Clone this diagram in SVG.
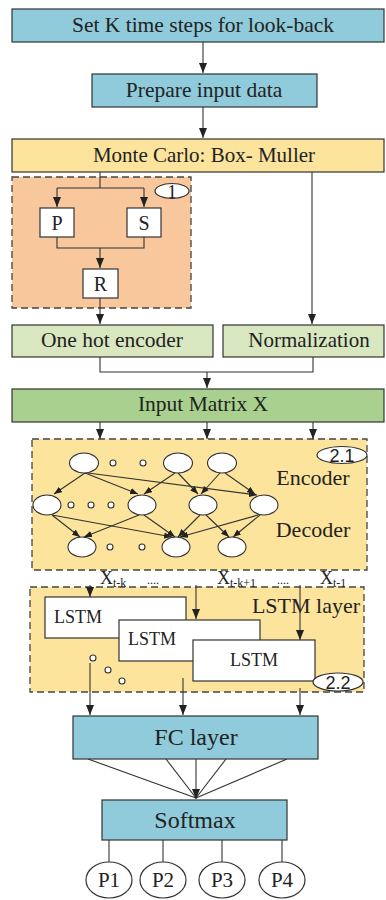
<svg xmlns="http://www.w3.org/2000/svg" width="386" height="900" viewBox="0 0 386 900">
<style>
.box{stroke:#333;stroke-width:1.2}
.blue{fill:#90cbdb}
.yel{fill:#fde49c}
.lg{fill:#d9e7c0}
.dg{fill:#a9d08e}
.wh{fill:#fff;stroke:#333;stroke-width:1.2}
.dash{stroke:#444;stroke-width:1.3;stroke-dasharray:7 4}
.ln{fill:none;stroke:#333;stroke-width:1.1}
.t{font-family:"Liberation Serif","Times New Roman",serif;fill:#222;text-anchor:middle}
.ts{font-family:"Liberation Sans",Arial,sans-serif;fill:#222;text-anchor:middle}
.n{fill:#fff;stroke:#333;stroke-width:1.1}
</style>
<defs>
<marker id="ar" viewBox="0 0 10 8" refX="10" refY="4" markerWidth="10" markerHeight="8" markerUnits="userSpaceOnUse" orient="auto">
<path d="M0,0 L10,4 L0,8 z" fill="#222"/>
</marker>
<marker id="as" viewBox="0 0 10 8" refX="10" refY="4" markerWidth="8" markerHeight="7" markerUnits="userSpaceOnUse" orient="auto">
<path d="M0,0 L10,4 L0,8 z" fill="#222"/>
</marker>
</defs>

<g id="group1">
<rect x="12" y="177" width="179" height="131" fill="#f8c79b" class="dash"/>
<ellipse cx="172" cy="191" rx="17" ry="7.5" class="wh"/>
<text x="172" y="198" class="t" font-size="19">1</text>
</g>
<g id="group21">
<rect x="32" y="439" width="335" height="131" class="yel dash"/>
<ellipse cx="342" cy="455" rx="25" ry="8.5" class="wh"/>
<text x="342" y="462" class="ts" font-size="18">2.1</text>
<text x="313" y="485" class="t" font-size="22">Encoder</text>
<text x="313" y="537" class="t" font-size="22">Decoder</text>
</g>
<g id="group22">
<rect x="30" y="587" width="334" height="105" class="yel dash"/>
<text x="306" y="613" class="t" font-size="22">LSTM layer</text>
</g>

<g id="connectors">
<line x1="203" y1="42" x2="203" y2="73" class="ln" marker-end="url(#ar)"/>
<line x1="203" y1="107" x2="203" y2="138" class="ln" marker-end="url(#ar)"/>
<polyline points="100,172 100,188" class="ln"/>
<polyline points="57,188 144,188" class="ln"/>
<line x1="57" y1="188" x2="57" y2="207" class="ln" marker-end="url(#ar)"/>
<line x1="144" y1="188" x2="144" y2="207" class="ln" marker-end="url(#ar)"/>
<polyline points="57,237 57,248 144,248 144,237" class="ln"/>
<line x1="100" y1="248" x2="100" y2="268" class="ln" marker-end="url(#ar)"/>
<line x1="100" y1="298" x2="100" y2="324" class="ln" marker-end="url(#ar)"/>
<line x1="312" y1="172" x2="312" y2="324" class="ln" marker-end="url(#ar)"/>
<polyline points="100,357 100,372 313,372 313,357" class="ln"/>
<line x1="207" y1="372" x2="207" y2="388" class="ln" marker-end="url(#ar)"/>
<line x1="100" y1="422" x2="100" y2="439" class="ln" marker-end="url(#ar)"/>
<line x1="207" y1="422" x2="207" y2="439" class="ln" marker-end="url(#ar)"/>
<line x1="313" y1="422" x2="313" y2="439" class="ln" marker-end="url(#ar)"/>

<line x1="85" y1="473" x2="54" y2="494" class="ln" marker-end="url(#as)"/>
<line x1="85" y1="473" x2="138" y2="494" class="ln" marker-end="url(#as)"/>
<line x1="88" y1="473" x2="257" y2="495" class="ln" marker-end="url(#as)"/>
<line x1="175" y1="473" x2="144" y2="494" class="ln" marker-end="url(#as)"/>
<line x1="178" y1="473" x2="198" y2="494" class="ln" marker-end="url(#as)"/>
<line x1="220" y1="473" x2="201" y2="494" class="ln" marker-end="url(#as)"/>
<line x1="225" y1="473" x2="255" y2="494" class="ln" marker-end="url(#as)"/>
<line x1="52" y1="515" x2="80" y2="537" class="ln" marker-end="url(#as)"/>
<line x1="52" y1="515" x2="172" y2="537" class="ln" marker-end="url(#as)"/>
<line x1="139" y1="515" x2="84" y2="537" class="ln" marker-end="url(#as)"/>
<line x1="144" y1="515" x2="175" y2="537" class="ln" marker-end="url(#as)"/>
<line x1="200" y1="515" x2="178" y2="537" class="ln" marker-end="url(#as)"/>
<line x1="206" y1="515" x2="229" y2="537" class="ln" marker-end="url(#as)"/>
<line x1="258" y1="515" x2="180" y2="537" class="ln" marker-end="url(#as)"/>
<line x1="260" y1="515" x2="233" y2="537" class="ln" marker-end="url(#as)"/>

<line x1="90" y1="570" x2="90" y2="597" class="ln" marker-end="url(#ar)"/>
<line x1="196" y1="570" x2="196" y2="619" class="ln" marker-end="url(#ar)"/>
<line x1="300" y1="570" x2="300" y2="640" class="ln" marker-end="url(#ar)"/>

<line x1="90" y1="663" x2="90" y2="715" class="ln" marker-end="url(#ar)"/>
<line x1="183" y1="678" x2="183" y2="715" class="ln" marker-end="url(#ar)"/>
<line x1="300" y1="688" x2="300" y2="715" class="ln" marker-end="url(#ar)"/>

<line x1="88" y1="759" x2="196" y2="798" class="ln"/>
<line x1="166" y1="759" x2="196" y2="798" class="ln"/>
<line x1="226" y1="759" x2="196" y2="798" class="ln"/>
<line x1="287" y1="759" x2="196" y2="798" class="ln"/>
<line x1="196" y1="759" x2="196" y2="799" class="ln" marker-end="url(#ar)"/>

<line x1="109" y1="840" x2="109" y2="862" class="ln"/>
<line x1="163" y1="840" x2="163" y2="862" class="ln"/>
<line x1="222" y1="840" x2="222" y2="862" class="ln"/>
<line x1="282" y1="840" x2="282" y2="862" class="ln"/>
</g>

<g id="setk"><rect x="12" y="9" width="372" height="33" class="box blue"/><text x="203" y="32" class="t" font-size="21.5">Set K time steps for look-back</text></g>
<g id="prepare"><rect x="92" y="74" width="225" height="33" class="box blue"/><text x="204" y="97" class="t" font-size="21.5">Prepare input data</text></g>
<g id="montecarlo"><rect x="12" y="139" width="372" height="33" class="box yel"/><text x="204" y="162" class="t" font-size="21">Monte Carlo: Box- Muller</text></g>
<g id="P"><rect x="40" y="208" width="34" height="29" class="wh"/><text x="57" y="230" class="t" font-size="20">P</text></g>
<g id="S"><rect x="127" y="208" width="34" height="29" class="wh"/><text x="144" y="230" class="t" font-size="20">S</text></g>
<g id="R"><rect x="83" y="269" width="35" height="29" class="wh"/><text x="100.5" y="291" class="t" font-size="20">R</text></g>
<g id="onehot"><rect x="12" y="325" width="201" height="32" class="box lg"/><text x="112" y="347" class="t" font-size="21.5">One hot encoder</text></g>
<g id="normalization"><rect x="223" y="325" width="161" height="32" class="box lg"/><text x="309" y="347" class="t" font-size="21">Normalization</text></g>
<g id="inputmatrix"><rect x="12" y="389" width="372" height="33" class="box dg"/><text x="203" y="411" class="t" font-size="21.5">Input Matrix X</text></g>

<g id="autoencoder">
<ellipse cx="84" cy="463" rx="14.5" ry="10" class="n"/>
<circle cx="113" cy="463" r="3" class="n"/>
<circle cx="143" cy="463" r="3" class="n"/>
<ellipse cx="178" cy="463" rx="14.5" ry="10" class="n"/>
<ellipse cx="222" cy="463" rx="14.5" ry="10" class="n"/>
<ellipse cx="47" cy="505" rx="14" ry="10" class="n"/>
<circle cx="71" cy="505" r="3" class="n"/>
<circle cx="91" cy="505" r="3" class="n"/>
<circle cx="111" cy="505" r="3" class="n"/>
<ellipse cx="142" cy="505" rx="14" ry="10" class="n"/>
<ellipse cx="203" cy="505" rx="14" ry="10" class="n"/>
<ellipse cx="264" cy="505" rx="14" ry="10" class="n"/>
<ellipse cx="82" cy="547" rx="14" ry="10" class="n"/>
<circle cx="110" cy="547" r="3" class="n"/>
<circle cx="142" cy="547" r="3" class="n"/>
<ellipse cx="176" cy="547" rx="14" ry="10" class="n"/>
<ellipse cx="232" cy="547" rx="14" ry="10" class="n"/>
</g>

<g id="xlabels">
<rect x="0" y="571" width="386" height="14" fill="#fff"/>
<text x="100" y="584" font-family="Liberation Serif,serif" font-size="18" fill="#222">X<tspan font-size="12" dy="3">t-k</tspan></text>
<text x="147" y="584" font-family="Liberation Serif,serif" font-size="12" fill="#222">....</text>
<text x="217" y="584" font-family="Liberation Serif,serif" font-size="18" fill="#222">X<tspan font-size="12" dy="3">t-k+1</tspan></text>
<text x="277" y="584" font-family="Liberation Serif,serif" font-size="12" fill="#222">....</text>
<text x="320" y="584" font-family="Liberation Serif,serif" font-size="18" fill="#222">X<tspan font-size="12" dy="3">t-1</tspan></text>
</g>

<g id="lstm1"><rect x="45" y="597" width="141" height="41" class="wh"/><text x="78" y="623" class="t" font-size="18">LSTM</text></g>
<g id="lstm2"><rect x="119" y="620" width="141" height="41" class="wh"/><text x="152" y="645" class="t" font-size="18">LSTM</text></g>
<g id="lstm3"><rect x="193" y="640" width="122" height="41" class="wh"/><text x="254" y="666" class="t" font-size="18">LSTM</text></g>
<g id="lstmdots">
<circle cx="93" cy="658" r="3" class="n"/>
<circle cx="108" cy="670" r="3" class="n"/>
<circle cx="122" cy="681" r="3" class="n"/>
</g>
<g id="label22"><ellipse cx="338" cy="682" rx="25" ry="9" class="wh"/><text x="338" y="689" class="ts" font-size="18">2.2</text></g>

<g id="fc"><rect x="73" y="716" width="245" height="43" class="box blue"/><text x="196" y="745" class="t" font-size="24">FC layer</text></g>
<g id="softmax"><rect x="102" y="800" width="185" height="40" class="box blue"/><text x="195" y="828" class="t" font-size="24">Softmax</text></g>
<g id="p1"><ellipse cx="109" cy="880" rx="23" ry="18" class="wh"/><text x="109" y="887" class="t" font-size="21">P1</text></g>
<g id="p2"><ellipse cx="163" cy="880" rx="23" ry="18" class="wh"/><text x="163" y="887" class="t" font-size="21">P2</text></g>
<g id="p3"><ellipse cx="222" cy="880" rx="23" ry="18" class="wh"/><text x="222" y="887" class="t" font-size="21">P3</text></g>
<g id="p4"><ellipse cx="282" cy="880" rx="23" ry="18" class="wh"/><text x="282" y="887" class="t" font-size="21">P4</text></g>
</svg>
